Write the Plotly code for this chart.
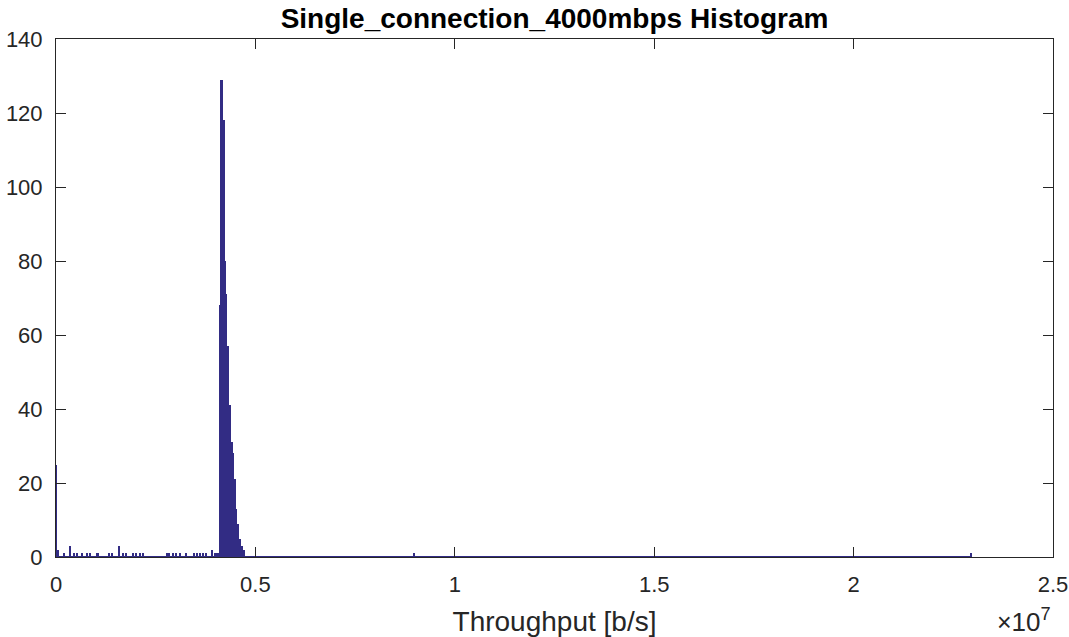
import plotly.graph_objects as go

# Histogram of measured throughput, 25 kb/s bins (only non-empty bins listed)
bin_width = 25000
bin_index = [
    0, 2, 8, 14, 18, 21, 26, 31, 34, 41, 42, 53, 56, 63, 67, 70,
    77, 80, 84, 87, 111, 113, 117, 120, 124, 130, 138, 141, 144, 147, 150,
    156, 159, 160, 161, 162,
    164, 165, 166, 167, 168, 169, 170, 171, 172, 173, 174, 175, 176, 177,
    178, 179, 180, 181, 182, 183, 184, 185, 186, 187, 188,
    359, 917,
]
bin_count = [
    25, 2, 1, 3, 1, 1, 1, 1, 1, 1, 1, 1, 1, 3, 1, 1,
    1, 1, 1, 1, 1, 1, 1, 1, 1, 1, 1, 1, 1, 1, 1,
    2, 1, 1, 1, 1,
    68, 129, 129, 118, 118, 80, 71, 57, 57, 41, 41, 31, 31, 28,
    21, 21, 13, 9, 9, 5, 5, 3, 3, 2, 2,
    1, 1,
]
n_bins = 918

x_tick_vals = [0, 5e6, 1e7, 1.5e7, 2e7, 2.5e7]
x_tick_text = ["0", "0.5", "1", "1.5", "2", "2.5"]
y_tick_vals = [0, 20, 40, 60, 80, 100, 120, 140]

bar_color = "rgb(50,44,132)"
axis_color = "#262626"
font_family = "Liberation Sans, Arial, sans-serif"

centers = [(k + 0.5) * bin_width for k in bin_index]

fig = go.Figure()
# empty bins show up as outline along the baseline
fig.add_trace(go.Scatter(
    x=[0, n_bins * bin_width], y=[0, 0], mode="lines",
    line=dict(color=bar_color, width=2), hoverinfo="skip", showlegend=False,
))
fig.add_trace(go.Bar(
    x=centers, y=bin_count, width=bin_width,
    marker=dict(color=bar_color, line=dict(width=0)),
    showlegend=False,
))

axis_common = dict(
    showline=True, linecolor=axis_color, linewidth=1, mirror="ticks",
    ticks="inside", ticklen=10, tickcolor=axis_color, tickwidth=1,
    showgrid=False, zeroline=False, automargin=False,
    tickfont=dict(family=font_family, size=22, color=axis_color),
)

fig.update_layout(
    width=1069, height=637,
    margin=dict(l=56, r=16, t=39, b=80),
    plot_bgcolor="white", paper_bgcolor="white",
    bargap=0,
    title=dict(
        text="<b>Single_connection_4000mbps Histogram</b>",
        x=0.5, xref="paper", y=1 - 18 / 637, yref="container",
        xanchor="center", yanchor="middle",
        font=dict(family=font_family, size=28, color="black"),
    ),
    xaxis=dict(
        range=[0, 2.5e7], tickvals=x_tick_vals, ticktext=x_tick_text,
        ticklabelstandoff=8,
        title=dict(text="Throughput [b/s]", standoff=14,
                   font=dict(family=font_family, size=28, color=axis_color)),
        **axis_common,
    ),
    yaxis=dict(
        range=[0, 140], tickvals=y_tick_vals,
        ticklabelstandoff=8,
        **axis_common,
    ),
    annotations=[dict(
        text="<span style='font-size:25px'>×</span>10<sup>7</sup>",
        xref="paper", yref="paper", x=1.0, y=-0.158,
        xanchor="right", yanchor="bottom", showarrow=False,
        font=dict(family=font_family, size=26, color=axis_color),
    )],
)

fig.write_html("out.html")
